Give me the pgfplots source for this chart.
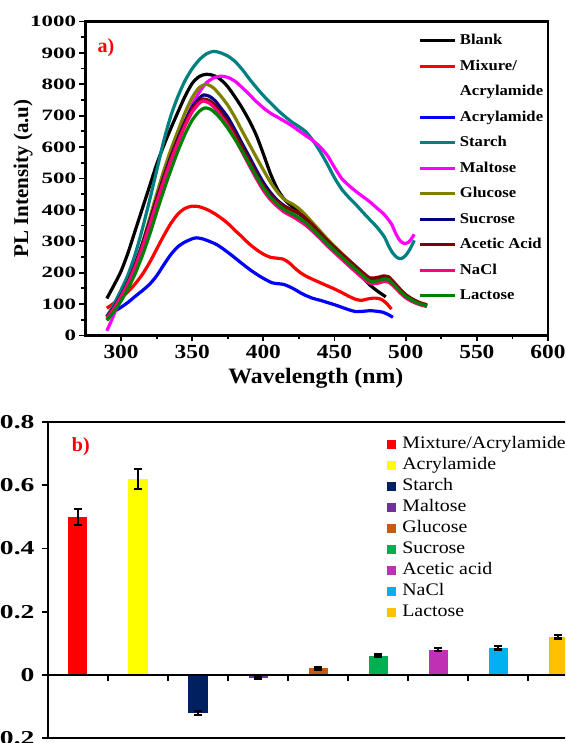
\documentclass[border=0pt]{standalone}
\usepackage{pgfplots}
\pgfplotsset{compat=1.18}
\usepackage{fontspec}
\setmainfont{Liberation Serif}
\newfontfamily\ytfont[FakeStretch=1.45]{Liberation Serif}
\newfontfamily\xtfont[FakeStretch=1.17]{Liberation Serif}
\newfontfamily\xlfont[FakeStretch=1.08]{Liberation Serif}
\newfontfamily\lgfont[FakeStretch=1.11]{Liberation Serif}
\newfontfamily\bytfont[FakeStretch=1.4]{Liberation Serif}
\newfontfamily\blgfont[FakeStretch=1.13]{Liberation Serif}

% spectra colours
\definecolor{cTeal}{RGB}{0,128,128}
\definecolor{cMag}{RGB}{255,0,255}
\definecolor{cOlive}{RGB}{128,128,0}
\definecolor{cNavy}{RGB}{0,0,128}
\definecolor{cMaroon}{RGB}{128,0,0}
\definecolor{cPink}{RGB}{255,0,128}
\definecolor{cGreen}{RGB}{0,128,0}
% bar colours
\definecolor{bMix}{RGB}{255,0,0}
\definecolor{bAcr}{RGB}{255,255,0}
\definecolor{bSta}{RGB}{0,32,96}
\definecolor{bMal}{RGB}{112,48,160}
\definecolor{bGlu}{RGB}{197,90,17}
\definecolor{bSuc}{RGB}{0,176,80}
\definecolor{bAce}{RGB}{192,48,180}
\definecolor{bNaCl}{RGB}{0,176,240}
\definecolor{bLac}{RGB}{255,192,0}

\begin{document}
\begin{tikzpicture}
\useasboundingbox (0pt,0pt) rectangle (565pt,743pt);
\clip (0pt,0pt) rectangle (565pt,743pt);

% ---------------- a) PL spectra ----------------
\begin{axis}[
  at={(85.5pt,407.5pt)}, anchor=south west,
  width=462.5pt, height=314pt, scale only axis,
  xmin=275, xmax=600, ymin=0, ymax=1000,
  xtick={300,350,...,600}, minor xtick={325,375,...,575},
  ytick={0,100,...,1000}, minor ytick={50,150,...,950},
  xtick pos=bottom, ytick pos=left, tick align=outside,
  major tick length=6pt, minor tick length=4pt,
  tick style={black, line width=1.8pt},
  axis line style={line width=2.6pt},
  /pgf/number format/assume math mode=true,
  /pgf/number format/1000 sep={},
  xticklabel style={font=\xtfont\bfseries\fontsize{20}{20}\selectfont},
  yticklabel style={font=\ytfont\bfseries\fontsize{15.8}{16}\selectfont},
  xlabel={Wavelength (nm)},
  ylabel={PL Intensity (a.u)},
  xlabel style={font=\xlfont\bfseries\fontsize{22}{22}\selectfont, at={(axis description cs:0.498,-0.135)}, anchor=center},
  ylabel style={font=\bfseries\fontsize{21}{21}\selectfont, at={(axis description cs:-0.135,0.5)}, anchor=center},
  every axis plot/.append style={line width=3.2pt, no markers, line join=round, smooth, tension=0.45},
  legend cell align=left,
  legend image code/.code={\draw[#1] (0pt,0pt) -- (35pt,0pt);},
  legend style={at={(rel axis cs:0.72,0.962)}, anchor=north west, draw=none, fill=none,
    inner sep=0pt, font=\lgfont\bfseries\fontsize{15}{15}\selectfont,
    nodes={inner sep=0pt, text height=11pt, text depth=3.5pt},
    row sep=11pt, column sep=3pt},
]
\addplot[black] coordinates {(290,118)(295,160)(300,205)(305,265)(310,335)(315,405)(320,475)(325,545)(330,605)(335,660)(340,712)(345,762)(350,803)(355,825)(360,832)(365,828)(370,815)(375,792)(380,760)(385,725)(390,685)(395,638)(400,578)(405,515)(410,465)(415,432)(420,412)(425,395)(430,373)(435,348)(440,323)(445,298)(450,276)(455,254)(460,231)(465,207)(470,183)(475,160)(480,142)(486,123)};
\addlegendentry{Blank}
\addplot[red] coordinates {(290,87)(295,103)(300,120)(305,140)(310,165)(315,195)(320,232)(325,275)(330,318)(335,357)(340,387)(345,405)(350,412)(355,410)(360,402)(365,390)(370,375)(375,357)(380,335)(385,314)(390,292)(395,274)(400,259)(405,249)(410,246)(414,243)(418,232)(422,215)(426,200)(430,189)(435,178)(440,168)(445,158)(450,148)(455,137)(460,125)(465,115)(469,112)(473,116)(477,119)(481,118)(484,112)(487,100)(490,84)};
\addlegendentry{Mixure/}
\addlegendimage{empty legend}
\addlegendentry{Acrylamide}
\addplot[blue] coordinates {(291,64)(295,76)(300,90)(305,106)(310,125)(315,143)(320,163)(325,190)(330,225)(335,258)(340,283)(345,298)(350,308)(353,311)(357,308)(362,300)(367,290)(372,275)(377,258)(382,240)(387,222)(392,205)(397,190)(402,177)(406,168)(410,165)(414,163)(418,156)(422,147)(426,136)(430,127)(435,118)(440,112)(445,105)(450,98)(455,90)(460,82)(465,76)(470,77)(475,79)(480,77)(484,74)(488,66)(491,58)};
\addlegendentry{Acrylamide}
\addplot[cTeal] coordinates {(290,60)(295,100)(300,145)(305,195)(310,260)(315,340)(320,430)(325,525)(330,620)(335,700)(340,762)(345,812)(350,850)(355,878)(360,897)(365,905)(370,900)(375,890)(380,873)(385,848)(390,818)(395,790)(400,764)(405,741)(410,718)(415,698)(420,680)(425,665)(430,648)(435,620)(440,585)(445,545)(450,502)(455,466)(460,440)(465,417)(470,392)(475,368)(480,344)(485,314)(488,285)(491,262)(494,248)(497,245)(500,255)(503,275)(506,303)};
\addlegendentry{Starch}
\addplot[cMag] coordinates {(290,15)(293,45)(296,78)(300,118)(305,165)(310,220)(315,282)(320,350)(325,422)(330,492)(335,557)(340,618)(345,680)(350,735)(355,775)(360,805)(365,820)(370,826)(375,822)(380,810)(385,790)(390,768)(395,745)(400,725)(405,708)(410,695)(415,682)(420,668)(425,652)(430,636)(435,620)(440,600)(445,573)(450,535)(455,500)(460,478)(465,459)(470,442)(475,425)(480,405)(485,385)(490,355)(493,325)(496,302)(499,293)(502,297)(504,308)(506,322)};
\addlegendentry{Maltose}
\addplot[cOlive] coordinates {(290,50)(295,80)(300,118)(305,165)(310,225)(315,295)(320,372)(325,450)(330,525)(335,592)(340,652)(345,710)(350,758)(355,790)(360,800)(365,788)(370,763)(375,733)(380,695)(385,652)(390,610)(395,568)(400,527)(405,488)(410,456)(415,432)(420,420)(425,404)(430,382)(435,357)(440,332)(445,307)(450,284)(455,262)(460,240)(465,218)(470,197)(475,180)(480,182)(485,188)(488,185)(492,167)(496,147)(500,130)(505,115)(510,105)(515,98)};
\addlegendentry{Glucose}
\addplot[cNavy] coordinates {(290,60)(295,90)(300,128)(305,172)(310,228)(315,292)(320,362)(325,435)(330,505)(335,570)(340,628)(345,682)(350,727)(355,756)(358,766)(362,762)(366,748)(370,725)(375,695)(380,655)(385,612)(390,570)(395,527)(400,487)(405,455)(410,430)(415,412)(420,400)(425,388)(430,370)(435,346)(440,322)(445,298)(450,277)(455,256)(460,235)(465,214)(470,194)(475,176)(480,176)(485,182)(488,180)(492,162)(496,143)(500,126)(505,112)(510,102)(515,95)};
\addlegendentry{Sucrose}
\addplot[cMaroon] coordinates {(290,58)(295,88)(300,126)(305,170)(310,225)(315,288)(320,357)(325,430)(330,500)(335,565)(340,623)(345,676)(350,720)(355,746)(358,753)(362,748)(366,733)(370,710)(375,680)(380,642)(385,600)(390,558)(395,515)(400,477)(405,447)(410,425)(415,410)(420,400)(425,390)(430,372)(435,350)(440,326)(445,302)(450,281)(455,260)(460,240)(465,220)(470,200)(475,183)(480,185)(485,190)(488,187)(492,168)(496,148)(500,130)(505,115)(510,104)(515,97)};
\addlegendentry{Acetic Acid}
\addplot[cPink] coordinates {(290,55)(295,86)(300,124)(305,167)(310,220)(315,282)(320,350)(325,422)(330,492)(335,557)(340,615)(345,668)(350,712)(355,740)(358,747)(362,740)(366,723)(370,700)(375,668)(380,628)(385,585)(390,542)(395,500)(400,462)(405,432)(410,410)(415,392)(420,380)(425,366)(430,350)(435,330)(440,308)(445,285)(450,264)(455,243)(460,222)(465,202)(470,182)(475,166)(480,166)(485,172)(488,170)(492,155)(496,136)(500,120)(505,107)(510,98)(515,92)};
\addlegendentry{NaCl}
\addplot[cGreen] coordinates {(290,48)(295,76)(300,110)(305,150)(310,198)(315,255)(320,320)(325,392)(330,462)(335,527)(340,588)(345,642)(350,686)(355,714)(359,725)(363,720)(367,705)(370,690)(375,660)(380,625)(385,588)(390,548)(395,508)(400,470)(405,440)(410,418)(415,400)(420,388)(425,375)(430,358)(435,337)(440,315)(445,292)(450,271)(455,250)(460,230)(465,210)(470,190)(475,173)(480,174)(485,180)(488,178)(492,160)(496,141)(500,125)(505,111)(510,101)(515,95)};
\addlegendentry{Lactose}
\node[anchor=west, text=red, font=\bfseries\fontsize{20}{20}\selectfont, inner sep=0pt] at (rel axis cs:0.026,0.918) {a)};
\end{axis}

% ---------------- b) response bars ----------------
\begin{axis}[
  at={(48pt,5pt)}, anchor=south west,
  width=540pt, height=316pt, scale only axis,
  xmin=0.5, xmax=9.5, ymin=-0.2, ymax=0.8,
  xtick=\empty,
  ytick={-0.2,0,0.2,0.4,0.6,0.8},
  yticklabels={-0.2,0,0.2,0.4,0.6,0.8},
  ytick pos=left, tick align=outside, major tick length=6pt,
  tick style={black, line width=1.8pt},
  axis line style={line width=2.8pt},
  yticklabel style={font=\bytfont\bfseries\fontsize{19.7}{20}\selectfont, xshift=-4pt},
  error bars/y dir=both, error bars/y explicit,
  error bars/error bar style={black, line width=2pt},
  error bars/error mark options={rotate=90, mark size=4pt, line width=2.2pt, black},
  every axis plot/.append style={ybar, bar width=19pt, bar shift=0pt, draw=none},
  legend image code/.code={\fill[#1] (0pt,-4.5pt) rectangle (9pt,4.5pt);},
  legend cell align=left,
  legend style={at={(rel axis cs:0.628,0.956)}, anchor=north west, draw=none, fill=none,
    inner sep=0pt, font=\blgfont\fontsize{17.6}{17.6}\selectfont,
    nodes={inner sep=0pt, text height=12pt, text depth=4pt},
    row sep=5pt, column sep=6pt},
]
\addplot[fill=bMix] coordinates {(1,0.50) +- (0,0.025)};
\addlegendentry{Mixture/Acrylamide}
\addplot[fill=bAcr] coordinates {(2,0.62) +- (0,0.032)};
\addlegendentry{Acrylamide}
\addplot[fill=bSta] coordinates {(3,-0.12) +- (0,0.006)};
\addlegendentry{Starch}
\addplot[fill=bMal] coordinates {(4,-0.01) +- (0,0.003)};
\addlegendentry{Maltose}
\addplot[fill=bGlu] coordinates {(5,0.02) +- (0,0.003)};
\addlegendentry{Glucose}
\addplot[fill=bSuc] coordinates {(6,0.06) +- (0,0.004)};
\addlegendentry{Sucrose}
\addplot[fill=bAce] coordinates {(7,0.08) +- (0,0.004)};
\addlegendentry{Acetic acid}
\addplot[fill=bNaCl] coordinates {(8,0.085) +- (0,0.005)};
\addlegendentry{NaCl}
\addplot[fill=bLac] coordinates {(9,0.12) +- (0,0.005)};
\addlegendentry{Lactose}
% zero line with category separators
\draw[line width=2.6pt] (axis cs:0.5,0) -- (axis cs:9.5,0);
\pgfplotsinvokeforeach{1.5,2.5,3.5,4.5,5.5,6.5,7.5,8.5}{
  \draw[line width=1.8pt] (axis cs:#1,0) -- ++(0pt,-6pt);
}
\node[anchor=west, text=red, font=\bfseries\fontsize{20}{20}\selectfont, inner sep=0pt] at (rel axis cs:0.044,0.922) {b)};
\end{axis}
\end{tikzpicture}
\end{document}
